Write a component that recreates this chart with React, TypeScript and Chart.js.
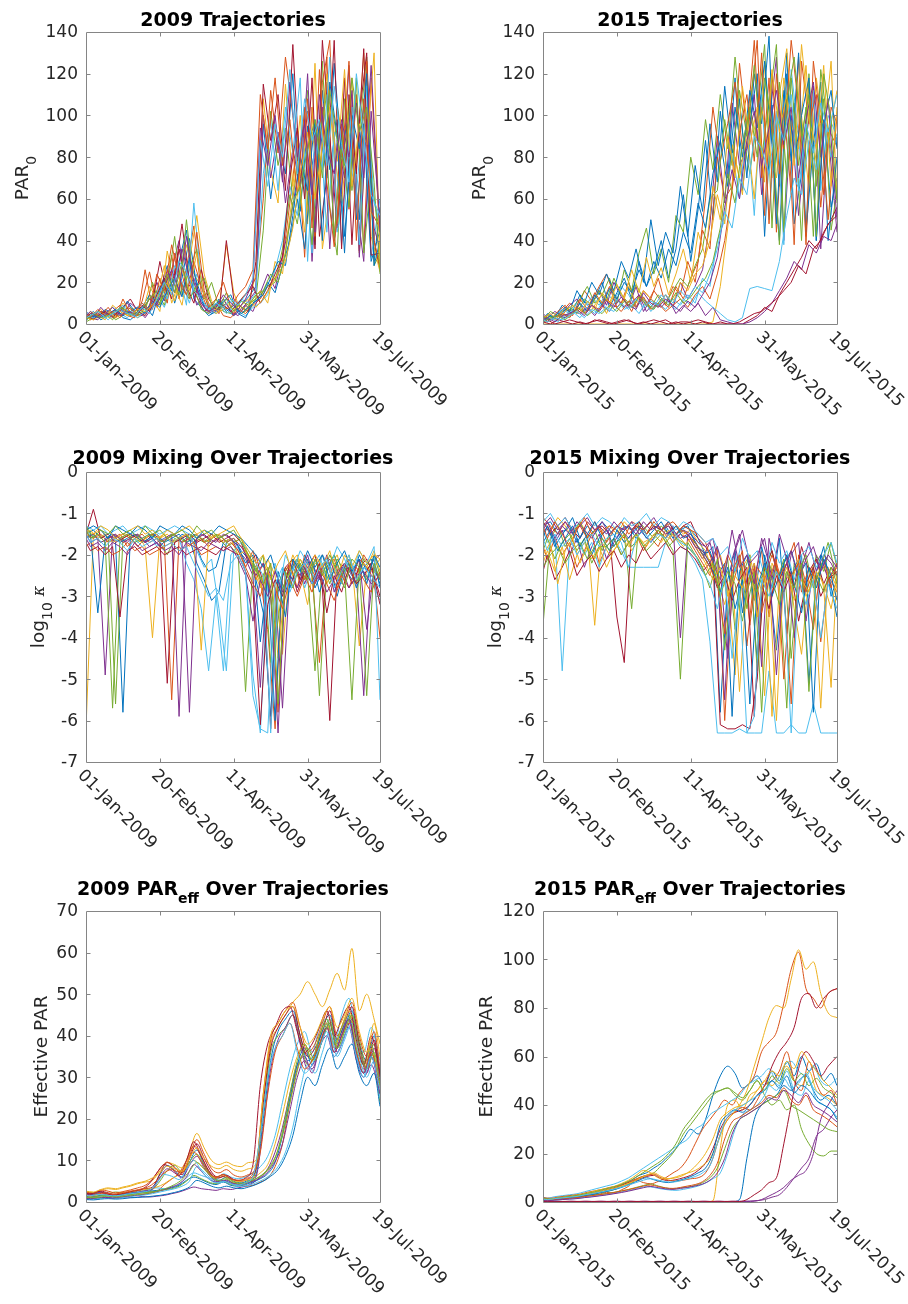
import { useEffect, useRef } from 'react';
import { Chart, registerables } from 'chart.js';

Chart.register(...registerables);

// MATLAB default line colour order
const COLORS = ['#0072BD', '#D95319', '#EDB120', '#7E2F8E', '#77AC30', '#4DBEEE', '#A2142F'];

// Sampling days (days since 1 January); trajectories alternate between the two grids
const DAYS_A = [0, 5, 10, 15, 20, 25, 30, 35, 40, 45, 50, 55, 60, 65, 70, 75, 80, 85, 90, 95, 100, 105, 110, 115, 120, 125, 130, 135, 140, 145, 150, 155, 160, 165, 170, 175, 180, 185, 190, 195, 199];
const DAYS_B = [0, 3, 8, 13, 18, 23, 28, 33, 38, 43, 48, 53, 58, 63, 68, 73, 78, 83, 88, 93, 98, 103, 108, 113, 118, 123, 128, 133, 138, 143, 148, 153, 158, 163, 168, 173, 178, 183, 188, 193, 199];

const X_TICK_DAYS = [0, 50, 100, 150, 199];
const X_LABELS_2009 = ['01-Jan-2009', '20-Feb-2009', '11-Apr-2009', '31-May-2009', '19-Jul-2009'];
const X_LABELS_2015 = ['01-Jan-2015', '20-Feb-2015', '11-Apr-2015', '31-May-2015', '19-Jul-2015'];

const Y_TICKS_PAR0 = [0, 20, 40, 60, 80, 100, 120, 140];
const Y_TICKS_MIX = [-7, -6, -5, -4, -3, -2, -1, 0];
const Y_TICKS_EFF_2009 = [0, 10, 20, 30, 40, 50, 60, 70];
const Y_TICKS_EFF_2015 = [0, 20, 40, 60, 80, 100, 120];

// Surface PAR along trajectories, 2009
const PAR0_2009: number[][] = [
  [3, 6, 2, 4, 7, 3, 2, 5, 9, 4, 16, 28, 10, 22, 41, 18, 8, 5, 12, 7, 4, 9, 13, 18, 96, 60, 88, 72, 120, 54, 95, 38, 112, 74, 98, 42, 86, 50, 121, 30, 56],
  [4, 2, 5, 3, 6, 9, 4, 3, 11, 25, 8, 14, 33, 12, 27, 47, 15, 6, 10, 4, 3, 7, 5, 9, 12, 18, 22, 30, 58, 88, 32, 104, 62, 128, 40, 96, 55, 110, 36, 118, 40],
  [2, 4, 7, 3, 5, 10, 6, 3, 5, 12, 6, 35, 18, 9, 30, 52, 24, 11, 7, 38, 15, 6, 10, 24, 108, 74, 58, 115, 66, 100, 48, 125, 36, 62, 105, 84, 118, 34, 95, 36, 30],
  [5, 3, 2, 6, 4, 7, 10, 5, 4, 9, 20, 11, 26, 40, 16, 22, 10, 5, 8, 12, 6, 4, 9, 6, 15, 24, 17, 33, 48, 70, 98, 30, 85, 116, 40, 62, 124, 58, 30, 102, 48],
  [1, 3, 5, 6, 2, 4, 8, 4, 6, 20, 9, 18, 42, 14, 26, 36, 12, 20, 8, 15, 10, 5, 7, 12, 45, 102, 76, 94, 60, 86, 112, 40, 126, 56, 33, 108, 64, 92, 128, 28, 34],
  [2, 5, 3, 4, 8, 5, 3, 7, 10, 6, 14, 8, 18, 24, 9, 58, 20, 7, 5, 9, 11, 6, 4, 8, 10, 14, 26, 40, 66, 52, 84, 34, 100, 44, 92, 38, 80, 62, 104, 32, 60],
  [4, 2, 6, 5, 3, 8, 12, 6, 4, 10, 30, 14, 24, 48, 20, 13, 6, 9, 5, 40, 12, 8, 6, 30, 115, 88, 110, 64, 134, 70, 102, 36, 136, 90, 46, 118, 38, 100, 130, 40, 26],
  [6, 4, 3, 7, 5, 4, 11, 6, 8, 14, 10, 22, 16, 30, 45, 12, 8, 4, 6, 11, 14, 5, 3, 10, 13, 20, 15, 28, 40, 60, 36, 76, 95, 70, 125, 80, 104, 50, 96, 30, 45],
  [2, 5, 4, 8, 3, 12, 5, 4, 26, 7, 22, 10, 34, 17, 12, 44, 16, 6, 10, 8, 5, 12, 16, 22, 60, 112, 82, 128, 100, 64, 108, 42, 116, 136, 48, 92, 110, 35, 126, 40, 27],
  [3, 6, 4, 2, 9, 6, 4, 8, 5, 18, 12, 28, 10, 20, 38, 24, 18, 9, 5, 7, 8, 10, 6, 12, 16, 10, 30, 24, 52, 78, 44, 92, 68, 120, 82, 58, 96, 76, 130, 42, 25],
  [5, 3, 8, 4, 6, 4, 10, 7, 3, 8, 12, 26, 15, 36, 22, 9, 14, 6, 7, 10, 4, 7, 11, 16, 100, 70, 92, 58, 84, 66, 120, 44, 104, 36, 88, 70, 112, 32, 98, 46, 36],
  [3, 4, 6, 5, 2, 8, 6, 4, 6, 12, 16, 9, 22, 14, 50, 18, 7, 5, 12, 6, 5, 9, 7, 11, 14, 18, 20, 36, 62, 48, 74, 38, 90, 110, 42, 84, 56, 118, 34, 70, 42],
  [4, 3, 5, 2, 6, 9, 5, 3, 6, 10, 18, 12, 28, 20, 10, 24, 14, 6, 9, 5, 8, 12, 10, 15, 72, 98, 64, 104, 82, 118, 30, 92, 74, 128, 44, 62, 104, 38, 114, 58, 48],
  [3, 5, 4, 6, 3, 7, 5, 4, 9, 6, 14, 22, 12, 36, 18, 10, 26, 12, 7, 9, 6, 10, 14, 18, 10, 16, 24, 32, 70, 94, 60, 118, 42, 70, 136, 36, 110, 72, 132, 33, 34],
  [2, 4, 3, 5, 7, 4, 6, 8, 5, 11, 8, 16, 22, 13, 32, 20, 9, 7, 11, 6, 9, 5, 8, 11, 14, 22, 30, 28, 52, 80, 64, 98, 40, 116, 90, 34, 100, 84, 120, 28, 40],
  [5, 3, 7, 4, 6, 3, 8, 6, 10, 7, 24, 16, 38, 22, 14, 30, 18, 8, 12, 20, 8, 14, 18, 26, 110, 84, 118, 76, 98, 62, 104, 46, 122, 68, 37, 74, 126, 40, 108, 54, 46],
  [3, 2, 4, 6, 3, 5, 4, 7, 6, 9, 14, 20, 11, 26, 16, 34, 13, 8, 6, 10, 7, 9, 12, 8, 12, 18, 24, 30, 46, 72, 92, 60, 86, 104, 78, 122, 66, 96, 86, 130, 28],
  [4, 6, 3, 5, 8, 4, 6, 5, 7, 12, 9, 18, 26, 16, 42, 20, 10, 6, 8, 14, 10, 7, 12, 20, 94, 76, 100, 68, 116, 80, 96, 62, 110, 84, 72, 98, 80, 106, 70, 124, 44],
  [2, 5, 3, 4, 6, 8, 4, 6, 9, 14, 10, 24, 15, 30, 12, 18, 22, 9, 7, 12, 6, 11, 9, 14, 16, 24, 20, 34, 58, 66, 84, 98, 70, 112, 88, 76, 118, 92, 104, 68, 24],
  [3, 4, 6, 3, 5, 7, 5, 4, 8, 5, 12, 20, 14, 30, 25, 16, 12, 7, 10, 8, 12, 9, 14, 22, 88, 66, 96, 80, 122, 72, 108, 88, 98, 76, 114, 86, 68, 120, 90, 62, 52],
];

// Surface PAR along trajectories, 2015
const PAR0_2015: number[][] = [
  [3, 2, 5, 8, 6, 14, 9, 12, 20, 8, 15, 22, 12, 30, 18, 26, 40, 22, 36, 62, 30, 55, 88, 50, 102, 70, 118, 64, 96, 120, 42, 105, 66, 130, 48, 72, 115, 40, 98, 56, 70],
  [1, 4, 3, 6, 10, 7, 16, 11, 18, 24, 14, 10, 20, 8, 16, 12, 22, 9, 18, 14, 30, 20, 45, 36, 80, 60, 66, 125, 92, 136, 70, 118, 44, 104, 62, 128, 38, 110, 56, 94, 85],
  [0, 0, 0, 0, 0, 0, 0, 0, 0, 0, 0, 0, 0, 0, 0, 0, 0, 0, 0, 0, 0, 0, 0, 1, 18, 46, 80, 62, 104, 88, 124, 70, 110, 132, 86, 100, 64, 118, 90, 126, 60],
  [5, 3, 6, 4, 9, 12, 6, 10, 16, 9, 20, 13, 8, 18, 6, 12, 9, 14, 8, 20, 12, 18, 26, 48, 90, 58, 106, 76, 84, 110, 62, 96, 128, 40, 100, 52, 88, 114, 36, 92, 44],
  [2, 6, 4, 3, 8, 12, 18, 10, 14, 22, 10, 26, 16, 34, 46, 24, 36, 20, 52, 44, 80, 62, 98, 74, 110, 84, 128, 92, 72, 100, 134, 46, 116, 70, 106, 40, 120, 66, 108, 45, 64],
  [3, 1, 4, 7, 5, 10, 8, 13, 9, 15, 11, 18, 14, 8, 12, 6, 10, 7, 12, 9, 14, 10, 22, 18, 40, 50, 84, 60, 96, 52, 110, 50, 102, 38, 122, 90, 46, 112, 64, 100, 90],
  [1, 0, 2, 1, 0, 1, 0, 2, 1, 0, 1, 2, 1, 0, 1, 2, 1, 0, 1, 0, 1, 2, 1, 0, 1, 0, 0, 0, 2, 4, 8, 6, 14, 20, 26, 32, 40, 36, 44, 50, 56],
  [2, 5, 3, 9, 6, 16, 10, 20, 14, 24, 16, 30, 22, 36, 20, 50, 28, 44, 34, 66, 42, 76, 54, 96, 68, 114, 82, 108, 70, 120, 96, 138, 48, 112, 78, 130, 44, 86, 116, 40, 80],
  [4, 2, 6, 9, 4, 12, 7, 15, 10, 18, 8, 12, 6, 14, 9, 16, 11, 8, 18, 12, 22, 30, 60, 104, 78, 96, 116, 84, 102, 136, 52, 120, 72, 108, 38, 126, 96, 110, 62, 104, 96],
  [1, 3, 2, 5, 4, 8, 6, 7, 12, 5, 14, 9, 18, 10, 16, 12, 8, 14, 10, 20, 16, 24, 28, 40, 62, 48, 86, 70, 92, 60, 104, 82, 70, 118, 96, 84, 124, 72, 100, 88, 112],
  [3, 2, 4, 3, 6, 5, 8, 4, 9, 6, 12, 8, 10, 14, 6, 10, 8, 12, 5, 9, 6, 10, 4, 8, 2, 1, 0, 0, 1, 3, 6, 10, 16, 22, 30, 26, 38, 34, 42, 40, 48],
  [2, 4, 3, 6, 8, 5, 12, 9, 16, 11, 22, 14, 10, 19, 12, 8, 14, 10, 16, 22, 18, 28, 36, 60, 64, 98, 76, 112, 90, 124, 80, 106, 134, 44, 118, 76, 104, 42, 122, 94, 60],
  [2, 3, 1, 4, 6, 3, 8, 5, 10, 6, 12, 7, 9, 5, 11, 8, 14, 10, 7, 12, 9, 15, 11, 8, 5, 2, 1, 3, 17, 18, 17, 16, 30, 52, 70, 62, 88, 74, 96, 80, 90],
  [1, 2, 0, 1, 2, 1, 0, 1, 2, 1, 0, 1, 2, 0, 1, 0, 1, 2, 0, 1, 1, 0, 1, 0, 0, 0, 0, 1, 3, 5, 6, 9, 12, 16, 20, 28, 24, 36, 40, 48, 52],
  [1, 4, 2, 7, 5, 10, 6, 14, 9, 17, 12, 20, 15, 26, 18, 30, 22, 36, 28, 44, 34, 58, 46, 72, 88, 66, 104, 80, 112, 94, 126, 86, 40, 120, 78, 100, 118, 40, 96, 112, 84],
  [2, 1, 3, 5, 3, 8, 5, 9, 7, 12, 9, 6, 11, 8, 13, 7, 10, 6, 9, 12, 8, 14, 18, 12, 24, 40, 64, 92, 110, 78, 130, 48, 120, 84, 136, 104, 42, 126, 96, 50, 100],
  [3, 5, 2, 6, 9, 5, 11, 7, 15, 10, 19, 12, 26, 15, 32, 18, 27, 14, 24, 36, 20, 44, 32, 66, 50, 90, 70, 114, 86, 104, 68, 122, 92, 110, 76, 134, 98, 84, 124, 66, 104],
  [2, 3, 1, 4, 5, 7, 4, 9, 6, 11, 8, 13, 9, 7, 15, 10, 8, 12, 9, 6, 11, 8, 14, 20, 32, 56, 74, 60, 88, 102, 76, 94, 112, 86, 104, 70, 98, 116, 80, 108, 50],
  [1, 3, 4, 2, 5, 8, 4, 7, 5, 9, 6, 11, 8, 13, 9, 7, 12, 9, 15, 10, 13, 18, 22, 30, 46, 72, 58, 86, 104, 80, 118, 96, 38, 106, 128, 90, 110, 42, 120, 98, 58],
  [2, 1, 3, 2, 4, 6, 3, 7, 5, 8, 6, 10, 7, 12, 8, 11, 9, 14, 10, 16, 12, 18, 15, 24, 36, 54, 46, 70, 62, 90, 84, 72, 100, 88, 110, 64, 96, 82, 106, 92, 110],
];

// log10 of the mixing coefficient along trajectories, 2009
const MIX_2009: number[][] = [
  [-1.5, -1.4, -1.6, -1.5, -1.7, -5.8, -1.6, -1.5, -1.7, -1.6, -1.8, -1.6, -1.7, -1.5, -1.6, -2.2, -2.6, -3.1, -2.9, -1.7, -1.6, -1.9, -2.1, -2.6, -3.4, -5.9, -2.4, -2.9, -2.3, -2.6, -2.1, -2.8, -2.4, -2.2, -3.0, -2.3, -2.6, -2.0, -2.4, -2.1, -2.8],
  [-1.4, -1.6, -1.5, -1.7, -1.6, -1.5, -1.8, -1.6, -1.5, -1.7, -1.6, -1.7, -5.5, -1.6, -1.5, -1.7, -1.6, -1.8, -1.6, -1.7, -1.6, -1.8, -2.3, -1.9, -2.6, -3.8, -6.2, -2.5, -2.2, -2.8, -2.0, -2.5, -4.6, -2.3, -2.1, -2.7, -2.2, -2.5, -2.0, -2.3, -2.6],
  [-6.2, -1.5, -1.4, -1.6, -1.5, -1.7, -1.6, -1.5, -1.8, -4.0, -1.6, -1.5, -1.7, -1.6, -1.8, -1.6, -1.5, -1.7, -1.6, -1.5, -1.7, -1.6, -2.0, -2.4, -2.9, -2.2, -4.5, -2.6, -2.0, -2.4, -3.2, -2.1, -2.5, -2.3, -2.0, -2.6, -2.2, -4.2, -2.3, -1.9, -2.4],
  [-1.5, -1.7, -1.6, -4.9, -1.5, -1.6, -1.7, -1.5, -1.6, -1.8, -1.7, -1.6, -1.5, -5.9, -1.6, -1.7, -1.5, -1.6, -1.7, -1.5, -1.6, -1.9, -2.1, -2.5, -5.2, -2.3, -2.8, -5.7, -2.4, -2.1, -2.7, -2.2, -2.6, -2.0, -2.9, -2.4, -2.1, -2.5, -5.4, -2.2, -2.0],
  [-1.6, -1.5, -1.7, -1.6, -5.6, -1.6, -1.5, -1.7, -1.6, -1.5, -1.7, -2.0, -1.6, -1.7, -1.5, -1.6, -1.7, -1.5, -1.6, -1.8, -1.7, -1.6, -2.1, -2.4, -2.0, -4.6, -2.7, -2.3, -2.6, -2.1, -2.5, -4.8, -2.2, -2.7, -2.1, -2.4, -5.5, -2.2, -2.6, -2.0, -2.5],
  [-1.4, -1.5, -1.6, -1.5, -1.7, -1.6, -1.5, -1.7, -1.6, -1.5, -1.8, -1.6, -1.7, -1.6, -2.2, -2.6, -3.3, -4.8, -3.0, -4.8, -2.0, -1.8, -2.4, -4.9, -6.3, -2.6, -2.2, -3.0, -2.5, -2.1, -2.8, -2.3, -2.0, -2.6, -2.3, -2.7, -2.1, -2.4, -2.2, -2.6, -3.1],
  [-1.5, -0.9, -1.6, -1.5, -1.7, -1.6, -1.5, -1.6, -1.7, -1.5, -1.6, -5.1, -1.7, -1.6, -1.5, -1.7, -1.6, -1.5, -1.7, -1.6, -1.5, -1.7, -2.2, -2.0, -2.7, -6.2, -2.9, -2.3, -2.1, -2.6, -2.3, -2.0, -2.8, -6.0, -2.4, -2.2, -2.7, -2.3, -2.1, -2.5, -3.0],
  [-1.6, -1.5, -3.4, -1.6, -1.5, -1.7, -1.6, -1.5, -1.7, -1.6, -1.5, -1.7, -1.6, -1.5, -1.7, -1.6, -2.1, -2.4, -2.3, -1.7, -1.6, -1.8, -2.2, -2.0, -4.1, -2.5, -6.0, -2.3, -2.8, -2.2, -2.6, -2.1, -2.9, -2.4, -2.0, -2.5, -2.2, -2.8, -2.3, -2.1, -2.7],
  [-1.5, -1.6, -1.5, -1.7, -1.6, -1.5, -1.6, -1.8, -1.6, -1.5, -1.7, -1.6, -1.5, -1.7, -1.6, -1.5, -1.7, -1.6, -1.5, -1.7, -1.6, -1.8, -2.0, -2.6, -2.2, -2.9, -5.8, -2.4, -2.1, -2.7, -2.2, -2.5, -2.0, -2.4, -2.8, -2.2, -2.5, -2.1, -2.3, -2.6, -4.0],
  [-1.5, -1.4, -1.6, -1.5, -1.7, -1.6, -1.5, -1.6, -1.7, -1.5, -1.6, -1.5, -1.7, -1.6, -1.5, -1.7, -4.3, -1.6, -1.5, -1.7, -1.6, -2.0, -1.9, -2.3, -2.8, -2.1, -2.5, -4.4, -2.2, -2.0, -2.6, -2.3, -2.1, -2.7, -2.2, -2.4, -2.0, -2.6, -2.2, -2.4, -2.1],
  [-1.6, -1.5, -1.7, -1.6, -1.5, -1.7, -1.6, -1.5, -1.7, -1.6, -1.8, -1.6, -1.5, -1.7, -5.8, -1.6, -1.5, -1.7, -1.6, -1.5, -1.7, -1.8, -2.1, -2.5, -2.2, -3.0, -6.3, -2.6, -2.2, -2.5, -2.0, -2.7, -2.3, -2.1, -2.6, -2.2, -2.5, -2.1, -3.8, -2.3, -2.6],
  [-1.4, -1.6, -1.5, -1.7, -5.7, -1.6, -1.5, -1.7, -1.6, -1.5, -1.6, -1.7, -1.5, -1.6, -1.7, -1.5, -1.6, -1.7, -1.5, -1.6, -1.8, -2.0, -5.3, -2.2, -2.6, -2.3, -4.1, -2.8, -2.4, -2.1, -2.6, -2.2, -5.4, -2.3, -2.0, -2.5, -2.2, -2.7, -2.1, -2.3, -2.5],
  [-1.3, -1.4, -1.3, -1.5, -1.4, -1.3, -1.5, -1.4, -1.3, -1.4, -1.5, -1.4, -1.3, -1.4, -1.5, -1.9, -2.3, -2.1, -3.3, -4.8, -1.9, -1.7, -1.9, -2.2, -2.5, -6.3, -3.0, -2.0, -2.4, -1.9, -2.2, -2.6, -2.0, -2.3, -1.8, -2.1, -2.5, -1.9, -2.2, -1.8, -5.5],
  [-1.7, -1.9, -1.8, -2.0, -1.8, -3.5, -1.9, -1.8, -2.0, -1.9, -1.8, -2.0, -1.9, -1.8, -2.0, -1.9, -1.8, -1.9, -2.0, -1.8, -1.9, -2.0, -2.4, -2.8, -6.1, -3.2, -2.6, -3.0, -2.2, -2.9, -2.4, -2.7, -2.2, -3.4, -2.5, -2.9, -2.3, -2.7, -2.5, -2.2, -3.2],
  [-1.4, -1.3, -1.4, -1.6, -1.3, -1.4, -1.5, -1.3, -1.4, -1.6, -1.3, -1.4, -1.5, -1.3, -1.4, -1.6, -1.4, -1.5, -1.3, -1.4, -1.5, -1.6, -1.8, -2.0, -2.3, -2.0, -2.6, -3.5, -2.1, -2.4, -1.9, -2.3, -2.0, -2.6, -2.2, -1.9, -2.4, -2.1, -2.7, -2.0, -2.3],
  [-1.8, -1.7, -1.9, -1.8, -2.0, -1.9, -1.7, -1.9, -1.8, -2.0, -1.9, -1.8, -1.7, -1.9, -1.8, -1.7, -2.0, -1.9, -1.8, -1.9, -1.7, -1.9, -2.3, -2.7, -3.0, -2.4, -2.8, -3.3, -2.6, -3.0, -2.5, -2.9, -2.3, -2.7, -3.1, -2.5, -2.8, -2.3, -2.6, -2.9, -2.4],
  [-1.4, -1.5, -1.3, -1.4, -1.6, -1.5, -1.4, -1.3, -1.5, -1.4, -1.6, -1.4, -1.5, -1.4, -1.3, -1.5, -1.4, -1.6, -1.5, -1.4, -1.3, -1.6, -1.9, -2.2, -2.0, -2.6, -2.2, -1.9, -2.5, -2.1, -2.4, -2.0, -2.3, -1.9, -2.6, -2.0, -2.3, -1.9, -2.2, -2.0, -2.1],
  [-1.6, -1.8, -1.7, -1.9, -1.7, -1.8, -2.0, -1.7, -1.9, -1.8, -1.7, -1.9, -1.8, -2.0, -1.7, -1.8, -1.9, -1.7, -1.8, -1.9, -1.8, -2.1, -2.5, -3.6, -2.6, -3.0, -2.4, -2.9, -2.5, -2.8, -2.3, -2.7, -2.4, -2.9, -2.6, -2.3, -2.8, -2.5, -2.4, -2.7, -2.5],
  [-1.3, -1.6, -1.4, -1.5, -1.3, -1.5, -1.4, -1.6, -1.3, -1.5, -1.4, -1.6, -1.5, -1.4, -1.6, -1.3, -1.5, -1.4, -1.6, -1.5, -1.4, -1.7, -2.0, -2.3, -2.7, -2.2, -5.6, -2.4, -2.8, -2.2, -2.6, -2.1, -2.5, -2.0, -2.4, -2.8, -2.1, -2.3, -5.4, -2.2, -2.6],
  [-1.5, -1.7, -1.6, -1.8, -1.6, -1.7, -1.9, -1.6, -1.8, -1.7, -1.6, -1.8, -1.7, -1.9, -1.8, -2.2, -2.6, -3.0, -2.8, -3.1, -2.2, -2.0, -2.4, -5.4, -6.2, -6.3, -2.7, -2.3, -2.9, -2.4, -2.2, -2.7, -2.3, -2.1, -2.8, -2.4, -2.0, -2.6, -2.3, -2.5, -2.8],
];

// log10 of the mixing coefficient along trajectories, 2015
const MIX_2015: number[][] = [
  [-1.3, -1.2, -1.5, -1.4, -1.1, -1.6, -1.3, -1.5, -1.2, -1.4, -1.6, -1.3, -1.4, -1.2, -1.5, -1.3, -1.4, -1.2, -1.5, -1.3, -1.4, -1.6, -2.0, -1.8, -5.8, -2.6, -1.9, -3.4, -2.2, -4.6, -2.0, -2.8, -1.6, -3.9, -2.3, -2.0, -5.1, -2.4, -1.8, -3.0, -2.6],
  [-1.8, -2.1, -1.6, -2.0, -1.7, -2.3, -1.9, -1.5, -2.2, -1.8, -1.6, -2.0, -1.7, -1.5, -1.9, -1.6, -1.8, -1.4, -1.7, -1.5, -1.6, -1.9, -2.2, -2.5, -1.8, -6.0, -2.8, -2.1, -4.2, -2.5, -1.9, -3.5, -2.2, -2.8, -5.6, -2.0, -2.7, -3.8, -2.2, -2.5, -2.9],
  [-1.2, -1.4, -1.1, -1.3, -1.6, -1.2, -1.5, -3.7, -1.4, -1.3, -1.5, -1.2, -1.4, -1.3, -1.5, -1.2, -1.4, -1.6, -1.3, -1.5, -1.4, -1.7, -1.9, -2.4, -2.0, -2.7, -4.9, -2.3, -2.0, -2.9, -5.4, -2.2, -2.6, -2.0, -3.3, -4.4, -2.5, -2.1, -2.8, -5.2, -2.4],
  [-1.5, -1.3, -1.7, -1.4, -2.0, -1.6, -2.3, -1.8, -1.5, -2.1, -1.7, -1.4, -1.6, -1.3, -1.5, -1.7, -1.4, -1.6, -1.3, -4.0, -1.5, -1.8, -2.1, -1.7, -2.4, -5.5, -2.1, -1.5, -2.7, -2.2, -4.7, -1.6, -2.4, -2.9, -2.0, -1.7, -3.6, -2.3, -2.0, -2.6, -2.2],
  [-3.7, -1.6, -1.3, -1.8, -1.5, -1.2, -1.6, -1.4, -1.9, -1.5, -1.3, -1.5, -3.3, -1.2, -1.4, -1.6, -1.3, -1.5, -1.5, -1.4, -1.6, -1.8, -2.0, -2.3, -2.9, -2.1, -3.8, -2.5, -2.0, -4.8, -2.4, -1.9, -2.7, -5.7, -2.2, -2.5, -2.9, -2.0, -2.4, -1.7, -2.3],
  [-1.4, -1.7, -1.5, -4.8, -1.8, -1.6, -2.0, -1.7, -2.3, -1.8, -1.6, -1.9, -2.3, -2.3, -2.3, -2.3, -2.3, -1.7, -1.5, -1.8, -1.9, -2.2, -2.6, -4.1, -6.3, -6.3, -6.3, -6.2, -6.3, -6.3, -6.3, -4.8, -6.3, -6.3, -6.1, -6.3, -6.3, -5.6, -6.3, -6.3, -6.3],
  [-1.2, -1.5, -1.3, -1.1, -1.4, -1.6, -1.2, -1.4, -1.3, -1.5, -3.5, -4.6, -1.4, -1.2, -1.5, -1.3, -1.4, -1.2, -1.5, -1.3, -1.2, -1.6, -1.8, -2.1, -6.1, -6.2, -6.2, -6.1, -6.2, -5.0, -2.3, -1.9, -2.6, -2.2, -2.8, -1.8, -2.4, -2.1, -2.7, -2.3, -2.5],
  [-1.6, -1.3, -1.8, -1.5, -1.3, -1.7, -1.4, -2.0, -1.6, -1.4, -1.8, -1.5, -1.3, -1.6, -1.4, -1.2, -1.5, -1.3, -1.6, -1.4, -1.3, -1.7, -2.0, -1.9, -2.5, -2.2, -5.9, -2.4, -2.0, -3.1, -1.8, -2.6, -4.3, -2.2, -1.9, -2.5, -2.2, -5.8, -2.0, -2.4, -3.5],
  [-1.1, -1.3, -1.5, -1.2, -1.4, -1.3, -1.6, -1.2, -1.5, -1.3, -1.4, -1.6, -1.2, -1.3, -1.5, -1.2, -1.4, -1.3, -1.5, -1.3, -1.4, -1.5, -1.7, -2.2, -2.6, -2.0, -2.4, -1.9, -3.7, -2.3, -2.6, -2.0, -2.5, -2.2, -1.7, -2.9, -2.3, -2.6, -2.1, -2.8, -2.2],
  [-2.2, -1.9, -2.4, -1.8, -2.6, -2.0, -1.7, -2.1, -1.8, -2.3, -1.9, -1.6, -1.8, -1.5, -1.7, -1.6, -1.4, -1.7, -1.5, -1.6, -1.8, -2.0, -2.3, -2.1, -2.6, -3.2, -2.4, -5.3, -2.7, -2.2, -2.9, -2.5, -6.0, -2.4, -2.7, -2.1, -3.0, -2.6, -5.7, -2.3, -2.8],
  [-1.3, -1.1, -1.4, -1.2, -1.5, -1.3, -1.1, -1.4, -1.2, -1.5, -1.3, -1.4, -1.2, -1.5, -1.3, -1.1, -1.4, -1.3, -1.6, -1.4, -1.5, -1.7, -1.8, -1.6, -2.4, -4.5, -1.9, -1.4, -2.2, -2.0, -1.6, -2.6, -1.5, -2.1, -4.0, -2.3, -1.7, -2.4, -2.0, -2.2, -2.5],
  [-1.9, -1.6, -2.1, -1.7, -1.5, -1.9, -1.6, -2.2, -1.8, -1.8, -1.6, -2.0, -1.7, -1.5, -1.8, -1.6, -1.4, -1.6, -1.9, -5.0, -1.7, -2.0, -2.3, -2.8, -2.1, -4.3, -2.6, -2.0, -3.3, -2.4, -5.8, -2.2, -2.7, -2.1, -4.5, -2.4, -2.0, -2.8, -2.3, -1.7, -2.6],
  [-1.2, -1.0, -1.3, -1.1, -1.4, -1.2, -1.0, -1.3, -1.1, -1.2, -1.4, -1.1, -1.3, -1.2, -1.0, -1.3, -1.1, -1.2, -1.4, -1.2, -1.3, -1.5, -1.7, -1.6, -2.0, -1.8, -2.4, -1.6, -2.1, -1.9, -2.5, -1.7, -2.2, -1.9, -2.6, -2.0, -1.8, -2.3, -2.0, -1.7, -2.2],
  [-2.4, -2.0, -2.6, -2.3, -1.9, -2.5, -2.2, -2.0, -2.4, -2.1, -1.9, -2.3, -2.0, -2.2, -1.8, -2.1, -1.9, -1.7, -2.0, -1.8, -1.9, -2.1, -2.4, -2.2, -2.8, -2.5, -3.1, -2.6, -2.3, -5.9, -2.7, -3.3, -2.5, -2.9, -2.4, -3.6, -2.7, -2.3, -3.0, -2.6, -2.4],
  [-1.7, -1.4, -1.9, -1.6, -1.3, -1.8, -1.5, -1.2, -1.6, -1.9, -1.4, -1.7, -1.5, -1.3, -1.6, -1.4, -1.2, -1.5, -1.3, -1.6, -1.5, -1.8, -2.1, -2.4, -2.9, -2.3, -3.3, -2.6, -5.6, -2.8, -2.2, -3.0, -2.5, -2.0, -2.7, -3.4, -2.3, -2.8, -2.1, -2.5, -3.1],
  [-1.3, -1.6, -1.2, -1.5, -1.8, -1.4, -1.1, -1.5, -1.3, -1.7, -1.4, -1.2, -1.5, -1.3, -1.4, -1.2, -1.5, -1.3, -1.2, -1.4, -1.5, -1.7, -2.0, -2.3, -2.7, -3.9, -2.4, -2.0, -2.9, -2.3, -3.4, -2.6, -2.1, -5.0, -2.5, -2.2, -2.9, -2.4, -4.1, -2.6, -2.3],
  [-2.0, -1.7, -2.7, -1.9, -1.6, -2.2, -1.8, -2.1, -1.7, -2.0, -1.8, -1.5, -1.9, -1.6, -1.8, -1.5, -1.7, -1.4, -1.6, -1.8, -1.6, -1.9, -2.2, -2.6, -2.3, -3.0, -2.5, -2.8, -2.2, -3.5, -2.4, -5.9, -2.7, -2.3, -3.1, -2.6, -2.9, -2.4, -2.7, -3.3, -2.5],
  [-1.4, -1.2, -1.6, -1.3, -1.5, -1.2, -1.4, -1.6, -1.3, -1.5, -1.2, -1.4, -1.3, -1.5, -1.2, -1.4, -1.3, -1.5, -1.4, -1.6, -1.5, -1.8, -1.9, -2.2, -1.8, -2.5, -1.4, -2.3, -2.0, -2.7, -1.6, -2.2, -4.9, -2.4, -1.9, -2.6, -2.1, -1.8, -2.4, -2.0, -2.3],
  [-2.3, -2.0, -1.8, -2.2, -1.9, -1.7, -2.1, -1.8, -1.6, -1.9, -1.7, -1.5, -1.8, -1.6, -1.9, -1.7, -1.5, -1.8, -1.6, -1.7, -1.9, -2.1, -2.5, -2.2, -3.0, -2.4, -2.7, -3.6, -2.5, -2.9, -2.3, -2.6, -3.2, -2.4, -2.8, -2.2, -5.3, -2.5, -2.9, -2.3, -2.7],
  [-1.6, -1.9, -1.5, -1.8, -1.6, -2.0, -1.7, -1.5, -1.8, -1.6, -1.5, -1.7, -2.3, -1.6, -1.4, -1.7, -1.5, -1.6, -1.4, -1.7, -1.8, -2.0, -2.4, -2.7, -3.3, -2.5, -4.5, -2.8, -6.3, -5.9, -2.6, -3.0, -2.4, -2.8, -6.3, -2.5, -3.2, -2.6, -4.0, -2.7, -3.3],
];

// Effective PAR along trajectories, 2009
const EFF_2009: number[][] = [
  [2.0, 1.8, 2.4, 2.0, 1.6, 1.8, 2.2, 2.6, 3.0, 3.4, 6.5, 8.8, 7.6, 6.0, 9.5, 12.5, 9.0, 6.5, 5.2, 6.0, 5.0, 4.6, 5.2, 6.5, 20, 34, 41, 44, 46, 40, 34, 36, 42, 45, 38, 42, 46, 38, 34, 40, 31],
  [1.5, 1.2, 1.4, 1.6, 1.3, 1.5, 1.8, 2.0, 2.2, 2.4, 2.6, 4.2, 5.5, 7.0, 10, 13.5, 11, 7.5, 5.6, 6.2, 4.8, 4.2, 3.8, 4.0, 4.8, 5.8, 8.5, 14, 24, 32, 36, 34, 38, 42, 36, 40, 44, 36, 32, 36, 28],
  [2.5, 2.2, 2.8, 3.2, 3.0, 3.4, 3.8, 4.4, 4.8, 5.2, 7.5, 9.5, 9.0, 8.2, 12, 16.5, 13, 10, 9.0, 9.6, 8.8, 8.5, 9.5, 10, 24, 38, 42, 45, 48, 50, 53, 50, 47, 51, 55, 51, 61, 46, 50, 44, 38],
  [1.0, 0.8, 1.0, 1.2, 0.9, 1.0, 1.2, 1.1, 1.3, 1.2, 1.4, 1.6, 2.0, 2.4, 3.0, 3.6, 3.2, 3.0, 2.8, 3.2, 3.0, 3.4, 3.8, 4.6, 6.0, 8.0, 12, 18, 26, 33, 35, 31, 37, 40, 35, 38, 42, 34, 30, 33, 26],
  [1.8, 2.2, 1.6, 2.0, 2.4, 2.2, 1.8, 2.2, 2.6, 3.0, 5.0, 7.6, 8.8, 7.2, 9.6, 11.5, 8.8, 6.2, 5.0, 5.4, 4.6, 4.4, 5.0, 7.5, 22, 36, 40, 42, 45, 39, 33, 35, 40, 44, 37, 41, 45, 39, 33, 38, 30],
  [1.2, 1.0, 1.3, 1.5, 1.4, 1.6, 1.9, 2.2, 2.6, 3.0, 3.4, 3.2, 3.6, 4.2, 5.8, 7.0, 6.4, 5.8, 5.4, 6.8, 6.0, 5.6, 6.0, 7.0, 8.5, 11, 16, 24, 32, 38, 41, 36, 42, 44, 38, 45, 49, 40, 36, 42, 34],
  [2.2, 2.0, 2.6, 2.2, 1.8, 2.0, 2.4, 2.8, 3.2, 3.6, 6.8, 9.5, 8.4, 6.6, 10.5, 14, 10.5, 7.2, 5.8, 6.4, 5.4, 5.0, 5.6, 7.8, 24, 37, 42, 45, 47, 40, 35, 37, 41, 46, 39, 43, 47, 38, 32, 39, 30],
  [1.4, 1.2, 1.5, 1.7, 1.5, 1.7, 2.0, 2.2, 2.4, 2.6, 2.8, 3.0, 3.4, 4.0, 5.2, 6.0, 5.4, 4.6, 4.2, 4.8, 4.0, 3.8, 4.2, 4.8, 5.6, 6.8, 9.5, 16, 25, 33, 37, 33, 39, 43, 37, 41, 44, 36, 31, 35, 27],
  [2.4, 2.1, 2.9, 2.6, 2.2, 2.5, 2.9, 3.4, 4.0, 5.5, 8.0, 9.6, 8.2, 7.0, 11, 15, 11.5, 8.0, 7.0, 7.8, 6.5, 6.0, 6.6, 8.5, 26, 39, 43, 46, 48, 42, 36, 38, 43, 47, 40, 44, 48, 40, 35, 41, 32],
  [1.6, 1.4, 1.7, 2.0, 1.8, 2.0, 2.3, 2.6, 2.9, 3.2, 3.6, 4.4, 5.6, 6.6, 8.4, 10, 8.6, 6.8, 5.9, 6.5, 5.4, 4.9, 5.2, 5.8, 7.0, 9.0, 14, 21, 29, 35, 38, 34, 40, 43, 37, 42, 46, 38, 33, 37, 29],
  [1.9, 1.7, 2.2, 1.9, 1.6, 1.7, 2.0, 2.3, 2.7, 3.1, 5.8, 8.0, 7.0, 5.8, 8.8, 11, 8.2, 5.8, 4.8, 5.2, 4.4, 4.2, 4.8, 6.0, 18, 32, 39, 42, 45, 38, 32, 34, 39, 43, 36, 40, 44, 37, 31, 37, 29],
  [1.3, 1.1, 1.4, 1.6, 1.4, 1.6, 1.8, 2.0, 2.2, 2.4, 2.6, 2.9, 3.2, 3.8, 5.0, 6.4, 5.6, 4.8, 4.4, 5.0, 4.2, 4.0, 4.4, 5.2, 6.2, 7.6, 10.5, 17, 26, 34, 38, 34, 40, 44, 38, 42, 45, 37, 33, 38, 24],
  [0.8, 0.7, 0.9, 1.0, 0.9, 1.1, 1.3, 1.5, 1.7, 2.0, 2.4, 2.8, 3.2, 3.8, 5.0, 8.5, 7.2, 5.4, 4.6, 5.0, 4.2, 3.8, 4.0, 4.6, 5.4, 6.6, 8.5, 12, 18, 27, 33, 31, 36, 41, 35, 39, 43, 35, 30, 34, 25],
  [2.1, 1.9, 2.5, 2.1, 1.7, 1.9, 2.3, 2.7, 3.1, 4.5, 7.0, 9.0, 8.0, 6.4, 10, 14.5, 11, 7.6, 6.0, 6.6, 5.6, 5.2, 5.8, 9.0, 28, 38, 42, 46, 47, 41, 36, 38, 42, 46, 40, 44, 47, 39, 33, 40, 31],
  [0.6, 0.5, 0.7, 0.8, 0.7, 0.8, 1.0, 1.1, 1.2, 1.4, 1.6, 1.9, 2.3, 2.8, 3.6, 5.2, 4.6, 3.8, 3.4, 3.8, 3.4, 3.2, 3.6, 4.2, 5.0, 6.2, 7.8, 11, 16, 24, 30, 28, 33, 37, 32, 35, 38, 31, 28, 31, 23],
  [1.7, 1.5, 1.9, 2.2, 1.9, 2.1, 2.5, 2.8, 3.2, 3.8, 5.2, 7.0, 7.8, 7.2, 9.0, 12, 9.8, 7.0, 6.0, 6.6, 5.6, 5.2, 5.6, 6.8, 12, 26, 36, 40, 43, 37, 32, 34, 38, 42, 36, 40, 43, 36, 31, 36, 27],
  [2.6, 2.4, 3.0, 3.4, 3.2, 3.6, 4.0, 4.6, 5.0, 5.8, 7.0, 8.6, 8.0, 7.4, 10.5, 13, 10.5, 8.6, 8.0, 8.8, 7.8, 7.4, 8.0, 9.2, 26, 40, 43, 46, 47, 42, 38, 40, 44, 47, 42, 45, 49, 41, 36, 43, 35],
  [0.9, 0.8, 1.0, 1.1, 1.0, 1.2, 1.4, 1.6, 1.8, 2.1, 2.5, 3.0, 3.6, 4.4, 6.0, 9.0, 7.4, 5.6, 4.8, 5.2, 4.5, 4.2, 4.5, 5.0, 5.8, 7.2, 9.8, 14, 22, 30, 34, 32, 37, 42, 36, 40, 44, 35, 31, 35, 26],
  [1.1, 1.0, 1.2, 1.4, 1.2, 1.4, 1.6, 1.8, 2.0, 2.3, 2.8, 3.4, 4.2, 5.4, 7.4, 9.5, 8.0, 6.0, 5.2, 5.8, 4.8, 4.5, 4.9, 5.6, 6.8, 8.8, 12.5, 19, 27, 34, 37, 34, 39, 43, 37, 41, 45, 37, 32, 36, 28],
  [1.6, 1.5, 1.8, 1.7, 1.5, 1.6, 1.9, 2.1, 2.4, 2.8, 4.6, 6.6, 6.2, 5.4, 7.8, 10, 7.6, 5.6, 4.6, 5.0, 4.4, 4.1, 4.6, 6.2, 16, 30, 37, 40, 43, 36, 31, 33, 37, 41, 35, 38, 42, 35, 30, 35, 27],
];

// Effective PAR along trajectories, 2015
const EFF_2015: number[][] = [
  [1.5, 1.2, 1.8, 2.0, 2.4, 2.2, 3.0, 3.6, 4.4, 5.2, 6.0, 7.5, 9.0, 11, 12, 14, 16, 19, 22, 26, 30, 28, 34, 44, 52, 56, 53, 47, 49, 52, 48, 54, 50, 58, 52, 60, 54, 57, 50, 53, 48],
  [1.0, 0.8, 1.2, 1.5, 1.8, 2.0, 2.6, 3.0, 3.2, 4.0, 3.6, 5.0, 6.5, 9.0, 8.0, 7.5, 8.5, 10, 12, 14, 18, 24, 30, 34, 38, 42, 40, 45, 48, 52, 62, 66, 70, 82, 96, 103, 88, 84, 80, 86, 88],
  [0, 0, 0, 0, 0, 0, 0, 0, 0, 0, 0, 0, 0, 0, 0, 0, 0, 0, 0, 0, 0, 0, 0, 0.5, 22, 40, 42, 38, 44, 46, 50, 48, 52, 56, 50, 48, 54, 46, 44, 42, 40],
  [0.2, 0.1, 0.2, 0.1, 0.2, 0.1, 0.2, 0.1, 0.2, 0.1, 0.2, 0.1, 0.2, 0.1, 0.2, 0.1, 0.2, 0.1, 0.2, 0.1, 0.2, 0.1, 0.2, 0.1, 0.2, 0.1, 0.2, 0.1, 0.2, 0.3, 1, 2.5, 4, 6, 9, 11, 13, 20, 34, 40, 46],
  [1.2, 1.0, 1.4, 1.8, 2.0, 2.4, 3.0, 3.4, 4.0, 4.6, 5.5, 6.8, 8.0, 10, 11, 12, 15, 18, 22, 28, 32, 36, 40, 44, 46, 47, 44, 42, 46, 50, 44, 40, 42, 38, 40, 30, 24, 20, 19, 21, 21],
  [2.0, 1.6, 2.2, 2.6, 3.0, 3.4, 4.2, 5.0, 5.8, 6.6, 7.4, 8.6, 10, 12, 14, 16, 18, 20, 22, 24, 26, 30, 32, 36, 38, 40, 42, 44, 48, 50, 52, 55, 50, 56, 58, 54, 52, 56, 50, 48, 51],
  [1.4, 1.2, 1.6, 1.9, 2.2, 2.6, 3.2, 3.8, 4.6, 5.4, 6.2, 7.4, 8.5, 9.5, 10.5, 11, 9.5, 8.8, 9.2, 10, 11, 13, 16, 22, 30, 35, 37, 38, 40, 44, 48, 56, 62, 66, 72, 84, 86, 80, 84, 87, 88],
  [0.1, 0.1, 0.1, 0.1, 0.1, 0.1, 0.1, 0.1, 0.1, 0.1, 0.1, 0.1, 0.1, 0.1, 0.1, 0.1, 0.1, 0.1, 0.1, 0.1, 0.1, 0.1, 0.1, 0.1, 0.1, 0.1, 0.1, 1, 18, 34, 40, 42, 44, 48, 46, 50, 52, 46, 42, 44, 40],
  [1.8, 1.5, 2.0, 2.4, 2.8, 3.2, 4.0, 4.6, 5.2, 6.0, 6.6, 7.6, 8.8, 10, 11, 11.5, 10, 9.0, 8.6, 9.0, 9.6, 10, 12, 18, 28, 34, 37, 39, 38, 42, 48, 50, 54, 62, 50, 46, 58, 49, 44, 46, 40],
  [1.2, 1.0, 1.5, 1.9, 2.2, 2.8, 3.4, 4.2, 5.0, 5.6, 6.4, 7.6, 9.0, 11, 13, 12, 10, 9.5, 10, 11, 12, 13, 15, 18, 24, 32, 36, 40, 46, 56, 66, 76, 81, 80, 92, 104, 96, 99, 86, 78, 76],
  [0.3, 0.2, 0.3, 0.2, 0.3, 0.2, 0.3, 0.2, 0.3, 0.2, 0.3, 0.2, 0.3, 0.2, 0.3, 0.2, 0.3, 0.2, 0.3, 0.2, 0.3, 0.2, 0.3, 0.2, 0.3, 0.2, 0.3, 0.3, 0.4, 0.6, 1, 2, 3, 6, 10, 14, 18, 27, 30, 35, 38],
  [1.0, 0.8, 1.1, 1.4, 1.6, 1.9, 2.3, 2.7, 3.1, 3.5, 4.0, 4.6, 5.2, 6.0, 6.8, 7.4, 6.6, 5.8, 5.4, 5.8, 6.2, 6.8, 8.0, 10, 14, 22, 30, 34, 36, 38, 40, 42, 44, 46, 40, 38, 36, 34, 32, 30, 29],
  [0.8, 0.6, 0.9, 1.1, 1.3, 1.6, 2.0, 2.4, 2.8, 3.2, 3.8, 4.4, 5.0, 5.8, 6.4, 6.0, 5.4, 5.0, 4.8, 5.2, 5.8, 6.6, 7.8, 9.6, 12, 20, 30, 36, 38, 40, 44, 50, 48, 54, 46, 44, 50, 42, 40, 38, 35],
  [0.3, 0.2, 0.3, 0.2, 0.3, 0.2, 0.3, 0.2, 0.3, 0.2, 0.3, 0.2, 0.3, 0.2, 0.3, 0.2, 0.3, 0.2, 0.3, 0.2, 0.3, 0.2, 0.3, 0.2, 0.3, 0.2, 0.3, 0.2, 1, 3, 5, 8, 10, 24, 40, 55, 62, 58, 52, 56, 60],
  [1.1, 0.9, 1.3, 1.6, 1.9, 2.2, 2.8, 3.3, 4.0, 4.6, 5.4, 6.4, 7.6, 9.0, 10, 9.2, 8.4, 8.0, 8.6, 9.4, 10.5, 12, 14, 20, 32, 36, 38, 37, 40, 44, 46, 50, 47, 52, 45, 48, 46, 42, 40, 38, 34],
  [0.9, 0.7, 1.0, 1.3, 1.5, 1.8, 2.2, 2.6, 3.0, 3.4, 3.9, 4.5, 5.1, 5.8, 6.6, 7.0, 6.4, 5.8, 5.6, 6.0, 6.6, 7.2, 8.4, 11, 16, 26, 33, 35, 37, 39, 41, 44, 43, 47, 42, 40, 44, 38, 36, 34, 31],
  [1.3, 1.1, 1.6, 2.0, 2.3, 2.7, 3.3, 3.9, 4.6, 5.3, 6.0, 7.0, 8.2, 9.6, 11, 12, 10.5, 9.6, 10, 11, 13, 16, 20, 26, 34, 37, 39, 40, 42, 46, 50, 54, 52, 58, 55, 62, 58, 54, 50, 47, 44],
  [0.7, 0.5, 0.8, 1.0, 1.2, 1.4, 1.8, 2.1, 2.5, 2.9, 3.4, 3.9, 4.5, 5.2, 5.9, 6.4, 5.9, 5.4, 5.2, 5.6, 6.0, 6.6, 7.4, 9.0, 12, 18, 28, 34, 36, 38, 40, 43, 42, 46, 44, 41, 45, 40, 38, 36, 33],
  [1.4, 1.2, 1.7, 2.1, 2.5, 2.9, 3.6, 4.2, 5.0, 5.8, 6.6, 7.8, 9.2, 11, 13, 15, 17, 20, 24, 30, 34, 38, 42, 45, 46, 47, 45, 43, 46, 50, 46, 52, 49, 55, 50, 53, 48, 51, 47, 45, 43],
  [1.2, 1.0, 1.4, 1.7, 2.0, 2.3, 2.9, 3.4, 4.0, 4.6, 5.3, 6.1, 7.0, 8.0, 9.0, 9.6, 9.0, 8.4, 8.2, 8.8, 9.6, 10.5, 12, 15, 24, 33, 37, 39, 41, 43, 45, 48, 46, 51, 47, 49, 53, 47, 44, 42, 38],
];

const FONT = '"DejaVu Sans", sans-serif';
const TICK_FONT = `17px ${FONT}`;
const LABEL_FONT = `18.5px ${FONT}`;
const LABEL_SUB_FONT = `14px ${FONT}`;
const TITLE_FONT = `bold 19px ${FONT}`;
const TITLE_SUB_FONT = `bold 14px ${FONT}`;
const AXIS_COLOR = '#858585';
const TEXT_COLOR = '#262626';

interface Seg { t: string; sub?: boolean; font?: string }

interface Panel {
  key: string;
  box: { left: number; top: number; width: number; height: number };
  pad: { left: number; top: number; right: number; bottom: number };
  title: Seg[];
  titleGap: number;
  ylabel: Seg[];
  ylabelOffset: number;
  yMin: number;
  yMax: number;
  yTicks: number[];
  xLabels: string[];
  series: number[][];
  smooth: boolean;
}

function drawRich(ctx: CanvasRenderingContext2D, segs: Seg[], x: number, y: number, base: string, sub: string, shift: number, color: string) {
  let total = 0;
  for (const s of segs) {
    ctx.font = s.font ?? (s.sub ? sub : base);
    total += ctx.measureText(s.t).width;
  }
  let cx = x - total / 2;
  ctx.textAlign = 'left';
  ctx.textBaseline = 'alphabetic';
  ctx.fillStyle = color;
  for (const s of segs) {
    ctx.font = s.font ?? (s.sub ? sub : base);
    ctx.fillText(s.t, cx, s.sub ? y + shift : y);
    cx += ctx.measureText(s.t).width;
  }
}

function decorPlugin(p: Panel) {
  return {
    id: 'axesDecor',
    afterDraw(chart: Chart) {
      const { ctx, chartArea: a } = chart;
      const xs = chart.scales.x;
      const ys = chart.scales.y;
      const L = Math.round(a.left) + 0.5;
      const R = Math.round(a.right) + 0.5;
      const T = Math.round(a.top) + 0.5;
      const B = Math.round(a.bottom) + 0.5;
      ctx.save();

      // axes box with inward ticks on all four sides
      ctx.strokeStyle = AXIS_COLOR;
      ctx.lineWidth = 1;
      ctx.beginPath();
      ctx.rect(L, T, R - L, B - T);
      for (const v of p.yTicks) {
        if (v === p.yMin || v === p.yMax) continue;
        const y = Math.round(ys.getPixelForValue(v)) + 0.5;
        ctx.moveTo(L, y); ctx.lineTo(L + 4, y);
        ctx.moveTo(R, y); ctx.lineTo(R - 4, y);
      }
      for (let i = 1; i < X_TICK_DAYS.length - 1; i++) {
        const x = Math.round(xs.getPixelForValue(X_TICK_DAYS[i])) + 0.5;
        ctx.moveTo(x, B); ctx.lineTo(x, B - 4);
        ctx.moveTo(x, T); ctx.lineTo(x, T + 4);
      }
      ctx.stroke();

      // y tick labels
      ctx.fillStyle = TEXT_COLOR;
      ctx.font = TICK_FONT;
      ctx.textAlign = 'right';
      ctx.textBaseline = 'middle';
      for (const v of p.yTicks) {
        ctx.fillText(String(v), a.left - 8, ys.getPixelForValue(v) + 1);
      }

      // rotated date labels
      ctx.textAlign = 'left';
      ctx.textBaseline = 'alphabetic';
      X_TICK_DAYS.forEach((d, i) => {
        const x = xs.getPixelForValue(d);
        ctx.save();
        ctx.translate(x - 9, a.bottom + 14);
        ctx.rotate(Math.PI / 4);
        ctx.fillText(p.xLabels[i], 0, 0);
        ctx.restore();
      });

      // title
      drawRich(ctx, p.title, (a.left + a.right) / 2, a.top - p.titleGap, TITLE_FONT, TITLE_SUB_FONT, 8, '#000000');

      // y-axis label
      ctx.save();
      ctx.translate(a.left + p.ylabelOffset, (a.top + a.bottom) / 2);
      ctx.rotate(-Math.PI / 2);
      drawRich(ctx, p.ylabel, 0, 0, LABEL_FONT, LABEL_SUB_FONT, 8, TEXT_COLOR);
      ctx.restore();

      ctx.restore();
    },
  };
}

const COL_L = 0;
const COL_R = 454;
const PAD_L = { left: 86, right: 74 };
const PAD_R = { left: 89, right: 71 };
const KAPPA_FONT = 'italic 16px "DejaVu Serif", serif';

const PANELS: Panel[] = [
  {
    key: 'par0-2009', box: { left: COL_L, top: 0, width: 454, height: 435 },
    pad: { ...PAD_L, top: 32, bottom: 111 },
    title: [{ t: '2009 Trajectories' }], titleGap: 6,
    ylabel: [{ t: 'PAR' }, { t: '0', sub: true }], ylabelOffset: -58,
    yMin: 0, yMax: 140, yTicks: Y_TICKS_PAR0, xLabels: X_LABELS_2009, series: PAR0_2009, smooth: false,
  },
  {
    key: 'par0-2015', box: { left: COL_R, top: 0, width: 454, height: 435 },
    pad: { ...PAD_R, top: 32, bottom: 111 },
    title: [{ t: '2015 Trajectories' }], titleGap: 6,
    ylabel: [{ t: 'PAR' }, { t: '0', sub: true }], ylabelOffset: -58,
    yMin: 0, yMax: 140, yTicks: Y_TICKS_PAR0, xLabels: X_LABELS_2015, series: PAR0_2015, smooth: false,
  },
  {
    key: 'mix-2009', box: { left: COL_L, top: 435, width: 454, height: 433 },
    pad: { ...PAD_L, top: 37, bottom: 106 },
    title: [{ t: '2009 Mixing Over Trajectories' }], titleGap: 8,
    ylabel: [{ t: 'log' }, { t: '10', sub: true }, { t: ' ' }, { t: 'κ', font: KAPPA_FONT }], ylabelOffset: -42,
    yMin: -7, yMax: 0, yTicks: Y_TICKS_MIX, xLabels: X_LABELS_2009, series: MIX_2009, smooth: false,
  },
  {
    key: 'mix-2015', box: { left: COL_R, top: 435, width: 454, height: 433 },
    pad: { ...PAD_R, top: 37, bottom: 106 },
    title: [{ t: '2015 Mixing Over Trajectories' }], titleGap: 8,
    ylabel: [{ t: 'log' }, { t: '10', sub: true }, { t: ' ' }, { t: 'κ', font: KAPPA_FONT }], ylabelOffset: -42,
    yMin: -7, yMax: 0, yTicks: Y_TICKS_MIX, xLabels: X_LABELS_2015, series: MIX_2015, smooth: false,
  },
  {
    key: 'eff-2009', box: { left: COL_L, top: 868, width: 454, height: 436 },
    pad: { ...PAD_L, top: 43, bottom: 102 },
    title: [{ t: '2009 PAR' }, { t: 'eff', sub: true }, { t: ' Over Trajectories' }], titleGap: 16,
    ylabel: [{ t: 'Effective PAR' }], ylabelOffset: -39,
    yMin: 0, yMax: 70, yTicks: Y_TICKS_EFF_2009, xLabels: X_LABELS_2009, series: EFF_2009, smooth: true,
  },
  {
    key: 'eff-2015', box: { left: COL_R, top: 868, width: 454, height: 436 },
    pad: { ...PAD_R, top: 43, bottom: 102 },
    title: [{ t: '2015 PAR' }, { t: 'eff', sub: true }, { t: ' Over Trajectories' }], titleGap: 16,
    ylabel: [{ t: 'Effective PAR' }], ylabelOffset: -51,
    yMin: 0, yMax: 120, yTicks: Y_TICKS_EFF_2015, xLabels: X_LABELS_2015, series: EFF_2015, smooth: true,
  },
];

function TrajectoryPanel({ panel }: { panel: Panel }) {
  const ref = useRef<HTMLCanvasElement>(null);

  useEffect(() => {
    const canvas = ref.current;
    if (!canvas) return;
    const n = panel.series.length;
    const datasets = panel.series.map((vals, k) => {
      const days = k % 2 === 0 ? DAYS_A : DAYS_B;
      return {
        data: vals.map((v, i) => ({ x: days[i], y: v })),
        borderColor: COLORS[k % COLORS.length],
        borderWidth: 1,
        pointRadius: 0,
        fill: false,
        tension: 0,
        cubicInterpolationMode: panel.smooth ? ('monotone' as const) : ('default' as const),
        order: n - k,
      };
    });
    const chart = new Chart(canvas, {
      type: 'line',
      data: { datasets },
      options: {
        animation: false,
        responsive: false,
        devicePixelRatio: 1,
        events: [],
        layout: { padding: panel.pad },
        plugins: { legend: { display: false }, tooltip: { enabled: false } },
        scales: {
          x: { type: 'linear', display: false, min: 0, max: 199 },
          y: { type: 'linear', display: false, min: panel.yMin, max: panel.yMax },
        },
      },
      plugins: [decorPlugin(panel)],
    });
    return () => chart.destroy();
  }, [panel]);

  return (
    <canvas
      ref={ref}
      width={panel.box.width}
      height={panel.box.height}
      style={{ position: 'absolute', left: panel.box.left, top: panel.box.top, width: panel.box.width, height: panel.box.height }}
    />
  );
}

export default function App() {
  return (
    <div style={{ position: 'absolute', left: 0, top: 0, width: 908, height: 1304, background: '#ffffff', overflow: 'hidden' }}>
      {PANELS.map((p) => (
        <TrajectoryPanel key={p.key} panel={p} />
      ))}
    </div>
  );
}
